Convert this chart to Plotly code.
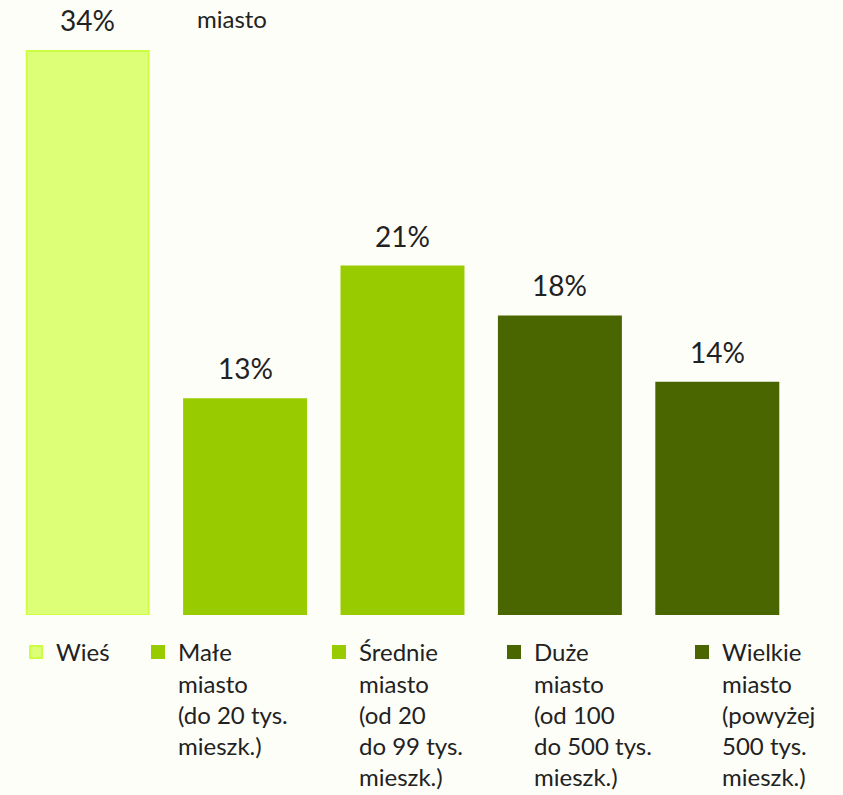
import plotly.graph_objects as go

categories = ["Wieś", "Małe miasto", "Średnie miasto", "Duże miasto", "Wielkie miasto"]
legend_names = [
    "Wieś",
    "Małe<br>miasto<br>(do 20 tys.<br>mieszk.)",
    "Średnie<br>miasto<br>(od 20<br>do 99 tys.<br>mieszk.)",
    "Duże<br>miasto<br>(od 100<br>do 500 tys.<br>mieszk.)",
    "Wielkie<br>miasto<br>(powyżej<br>500 tys.<br>mieszk.)",
]
values = [34, 13, 21, 18, 14]
colors = ["#dcff77", "#99cc00", "#99cc00", "#4a6600", "#4a6600"]
line_colors = ["#ccff44", "#99cc00", "#99cc00", "#4a6600", "#4a6600"]
legend_text_x = [56, 178, 359, 534, 722]  # pixel start of legend text

FONT = "Lato"
L, R, T, B = 9, 47, 18, 180
W, H = 843, 795
pw = W - L - R
ph = H - T - B

fig = go.Figure()
for i, (c, v) in enumerate(zip(categories, values)):
    lg = "legend" if i == 0 else f"legend{i+1}"
    fig.add_trace(go.Bar(
        x=[c], y=[v], name=legend_names[i],
        marker=dict(color=colors[i], line=dict(color=line_colors[i], width=2)),
        legend=lg, hoverinfo="skip",
    ))
    fig.add_annotation(x=c, y=v, text=f"{v}%", showarrow=False, xref="x", yref="y",
                       yanchor="bottom", yshift=12,
                       font=dict(family=FONT, size=28, color="#222222"))

layout_legends = {}
for i in range(5):
    key = "legend" if i == 0 else f"legend{i+1}"
    layout_legends[key] = dict(
        xref="container", yref="container",
        x=(legend_text_x[i] - 40) / W, xanchor="left",
        y=1 - 630 / H, yanchor="top",
        font=dict(family=FONT, size=24, color="#222222"),
        bgcolor="rgba(0,0,0,0)", borderwidth=0, valign="top",
    )

fig.add_annotation(text="miasto", xref="paper", yref="paper",
                   x=(195 - L) / pw, xanchor="left", y=(H - B - 18) / ph, yanchor="middle",
                   showarrow=False, font=dict(family=FONT, size=24, color="#222222"))

fig.update_layout(
    width=W, height=H,
    margin=dict(l=L, r=R, t=T, b=B, autoexpand=False),
    paper_bgcolor="#fefef9", plot_bgcolor="#fefef9",
    barmode="overlay", bargap=0.225,
    showlegend=True,
    xaxis=dict(visible=False, categoryorder="array", categoryarray=categories),
    yaxis=dict(visible=False, range=[0, ph / 16.59]),
    **layout_legends,
)

fig.write_html("out.html")
